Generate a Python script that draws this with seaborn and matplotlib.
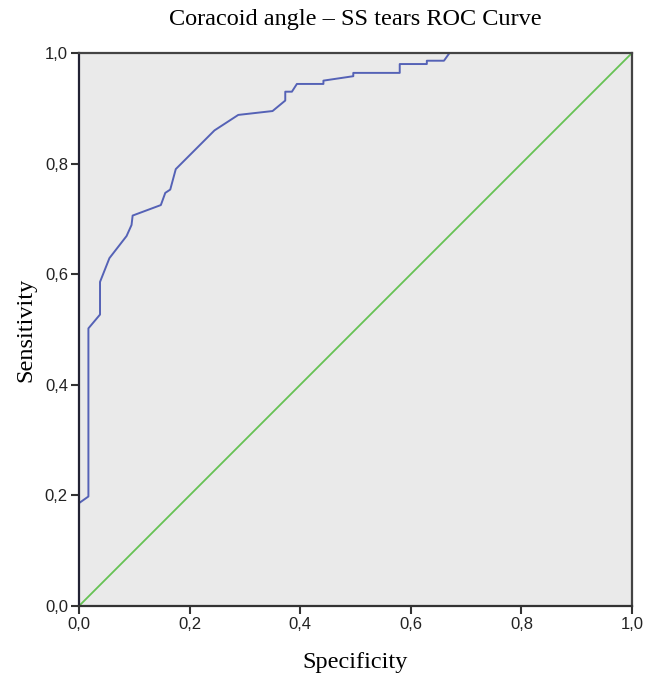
import matplotlib
matplotlib.use("Agg")
import matplotlib.pyplot as plt
import numpy as np
import pandas as pd
import seaborn as sns

sns.set_style("white")

# ROC curve (1 - specificity on x, sensitivity on y)
spec = [0.0, 0.0, 0.017, 0.017, 0.038, 0.038, 0.055, 0.086, 0.095, 0.097,
        0.148, 0.156, 0.165, 0.175, 0.245, 0.288, 0.350, 0.373, 0.373, 0.385,
        0.394, 0.442, 0.442, 0.496, 0.496, 0.580, 0.580, 0.629, 0.629, 0.660,
        0.670, 1.0]
sens = [0.0, 0.186, 0.198, 0.502, 0.527, 0.586, 0.629, 0.669, 0.689, 0.706,
        0.725, 0.747, 0.753, 0.790, 0.860, 0.888, 0.895, 0.914, 0.930, 0.930,
        0.944, 0.944, 0.950, 0.958, 0.964, 0.964, 0.980, 0.980, 0.986, 0.986,
        1.0, 1.0]
ref_x = [0.0, 1.0]
ref_y = [0.0, 1.0]

ticks = [0.0, 0.2, 0.4, 0.6, 0.8, 1.0]
tick_labels = ["0,0", "0,2", "0,4", "0,6", "0,8", "1,0"]

roc = pd.DataFrame({"spec": spec, "sens": sens})
ref = pd.DataFrame({"x": ref_x, "y": ref_y})

fig = plt.figure(figsize=(6.46, 6.74), dpi=100)
ax = fig.add_axes([0.1223, 0.1009, 0.856, 0.8205])
ax.set_facecolor("#eaeaea")

sns.lineplot(data=ref, x="x", y="y", ax=ax, color="#66c254", lw=1.3,
             sort=False, estimator=None)
sns.lineplot(data=roc, x="spec", y="sens", ax=ax, color="#5562b6", lw=1.4,
             sort=False, estimator=None)

ax.set_xlim(0, 1)
ax.set_ylim(0, 1)
ax.set_xticks(ticks)
ax.set_yticks(ticks)
ax.set_xticklabels(tick_labels, family="Liberation Sans", fontsize=12, color="#222222")
ax.set_yticklabels(tick_labels, family="Liberation Sans", fontsize=12, color="#222222")
ax.tick_params(bottom=True, left=True, top=False, right=False, direction="out",
               length=6, width=1.5, color="#333333", pad=2)

for s in ax.spines.values():
    s.set_visible(True)
    s.set_color("#444444")
    s.set_linewidth(1.6)
ax.spines["left"].set_color("#222233")
ax.spines["bottom"].set_color("#333333")

ax.set_xlabel("Specificity", family="Liberation Serif", fontsize=17.5,
              color="black", labelpad=14)
ax.set_ylabel("Sensitivity", family="Liberation Serif", fontsize=17.5,
              color="black", labelpad=6)
ax.set_title("Coracoid angle \u2013 SS tears ROC Curve", family="Liberation Serif",
             fontsize=17.5, color="black", pad=20)

fig.savefig("out.png", dpi=100)
